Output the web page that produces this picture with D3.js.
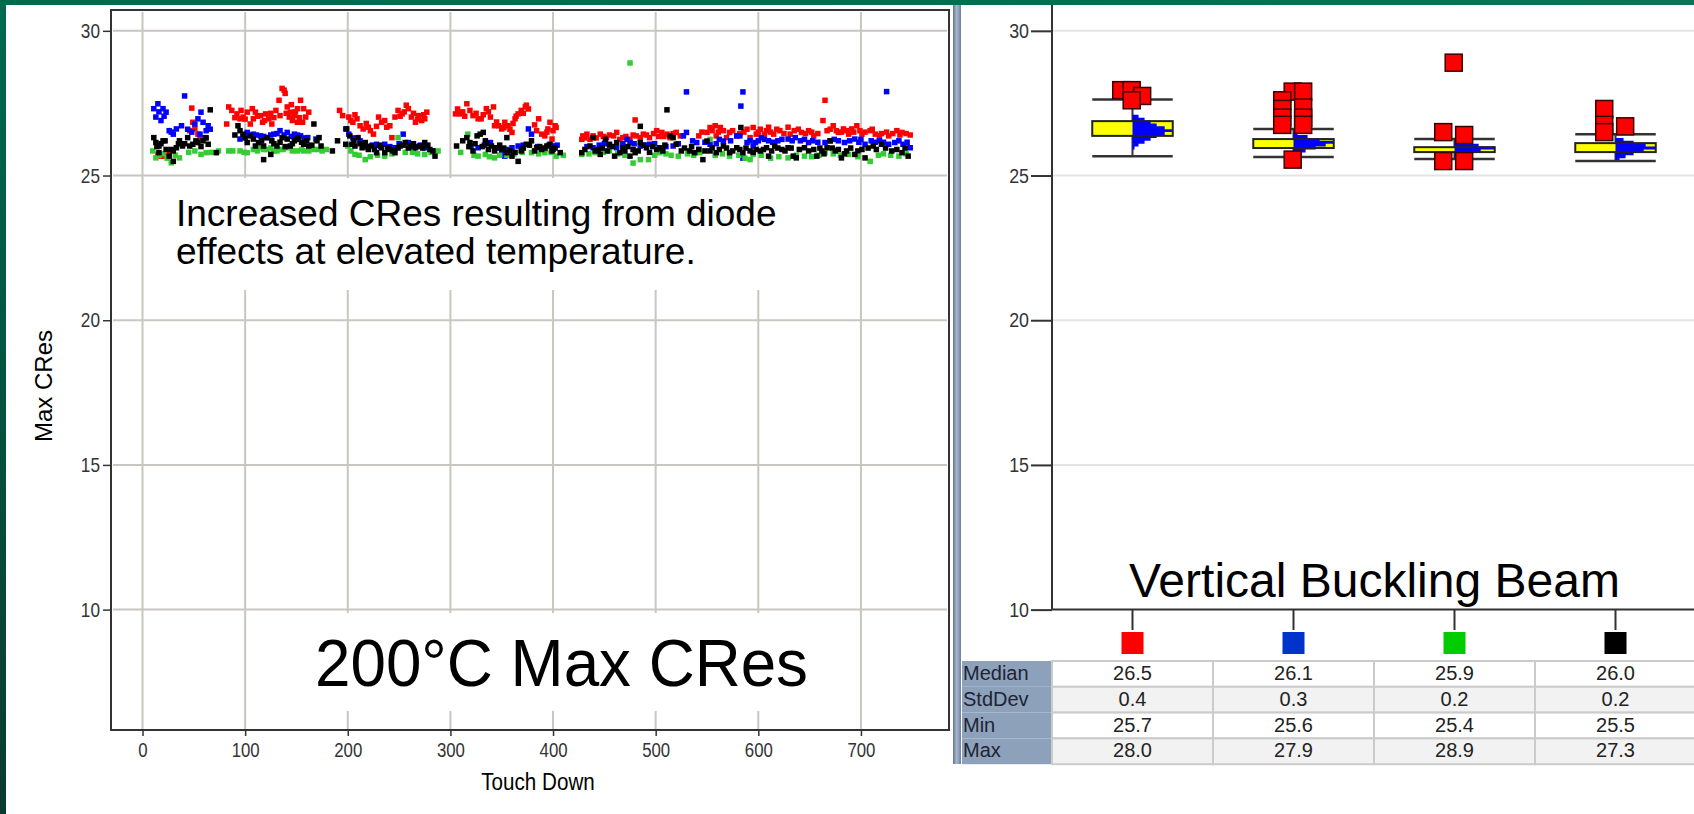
<!DOCTYPE html>
<html>
<head>
<meta charset="utf-8">
<script src="https://cdn.jsdelivr.net/npm/d3@7"></script>
<style>
body { margin: 0; background: #fff; }
svg text { font-family: "Liberation Sans", Arial, sans-serif; }
</style>
</head>
<body>
<svg id="slide" width="1694" height="814"></svg>
<script>
// ---- data ----
var touchDownTicks = [0, 100, 200, 300, 400, 500, 600, 700];
var cresTicks = [10, 15, 20, 25, 30];

// [touch down, max CRes]
var redPoints = [[15,25.73],[18,25.67],[21,25.67],[26,25.79],[46,26.55],[48,27.33],[49,26.84],[51,26.61],[54,26.43],[56,26.31],
[82,26.78],[84,27.37],[87,27.25],[90,27.0],[92,27.13],[95,26.96],[96,27.25],[98,27.02],[100,26.95],[102,27.19],[105,26.78],[107,27.31],[108,26.96],[110,27.19],[112,27.05],[115,27.07],[117,26.84],[119,26.9],[120,27.13],[123,26.96],[125,27.15],[126,26.78],[128,27.0],[130,27.25],[133,27.60],[134,27.07],[136,28.01],[138,27.95],[139,27.84],[140,27.15],[141,27.37],[143,27.02],[144,27.19],[145,27.45],[146,26.90],[148,27.07],[149,27.2],[151,27.31],[151,26.84],[153,27.0],[154,27.60],[156,26.84],[157,27.31],[159,27.02],[162,27.19],[192,27.25],[195,27.07],
[201,27.02],[203,26.9],[205,26.84],[207,27.1],[209,26.96],[212,26.72],[215,26.61],[218,26.8],[220,26.67],[222,26.55],[225,26.43],[228,26.7],[230,27.02],[233,26.84],[236,26.9],[238,26.67],[241,26.72],[243,26.31],[246,27.02],[249,27.25],[251,27.05],[253,27.13],[255,27.2],[257,27.43],[259,27.31],[262,27.02],[264,27.15],[266,26.84],[268,26.95],[269,27.07],[272,26.90],[274,27.1],[275,26.96],[277,27.19],
[305,27.13],[307,27.3],[309,27.13],[312,27.2],[314,27.05],[316,27.48],[319,27.25],[322,27.07],[325,27.15],[327,26.96],[330,26.96],[332,27.1],[335,27.31],[337,27.2],[339,27.02],[342,27.37],[343,26.72],[345,26.85],[347,26.72],[350,26.61],[352,26.65],[353,26.84],[356,26.72],[358,26.6],[360,26.49],[361,26.8],[363,26.96],[364,27.05],[366,27.13],[369,27.25],[371,27.15],[373,27.37],[374,27.43],[376,27.3],[382,26.75],[384,26.55],[386,26.96],[389,26.43],[392,26.37],[394,26.5],[395,26.61],[397,26.84],[399,26.26],[400,26.55],[402,26.72],[403,26.66],
[428,26.25],[429,26.37],[431,26.3],[433,26.43],[436,26.25],[439,26.37],[442,26.3],[446,26.43],[449,26.35],[452,26.31],[455,26.4],[459,26.37],[462,26.49],[465,26.25],[468,26.31],[471,26.35],[475,26.25],[478,26.4],[480,26.92],[481,26.37],[485,26.31],[488,26.43],[491,26.4],[494,26.31],[498,26.45],[501,26.55],[503,26.35],[506,26.49],[508,26.35],[511,26.43],[514,26.31],[517,26.45],[520,26.49],[524,26.37],[542,26.37],[545,26.5],[550,26.49],[553,26.66],[555,26.55],[558,26.72],[559,26.37],[561,26.5],[563,26.66],[566,26.55],[569,26.31],[572,26.49],[575,26.55],[579,26.37],[582,26.45],[586,26.5],[589,26.60],[592,26.31],[595,26.66],[598,26.43],[600,26.5],
[602,26.60],[606,26.43],[608,26.55],[610,26.67],[612,26.5],[615,26.43],[618,26.6],[621,26.55],[625,26.45],[629,26.67],[631,26.43],[635,26.55],[639,26.6],[642,26.49],[646,26.45],[649,26.55],[652,26.5],[654,26.37],[658,26.45],[663,26.90],[665,27.60],[667,26.55],[670,26.6],[673,26.72],[676,26.55],[678,26.49],[681,26.5],[683,26.61],[686,26.55],[688,26.43],[691,26.61],[693,26.5],[696,26.72],[699,26.55],[701,26.43],[704,26.5],[709,26.55],[711,26.6],[714,26.43],[718,26.37],[720,26.45],[725,26.5],[727,26.37],[731,26.45],[735,26.55],[738,26.4],[740,26.49],[744,26.45],[748,26.40]];

var bluePoints = [[11,27.31],[13,27.02],[15,27.48],[16,27.2],[18,26.90],[20,27.31],[21,27.05],[23,27.19],[26,26.55],[28,26.5],[30,26.43],[33,26.61],[38,26.72],[41,27.75],[44,26.6],[48,26.5],[51,26.78],[54,26.96],[56,26.43],[57,27.19],[59,26.84],[61,26.31],[62,26.55],[64,26.72],[66,26.6],
[95,26.26],[98,26.35],[102,26.49],[105,26.4],[108,26.43],[111,26.4],[115,26.37],[118,26.35],[121,26.31],[125,26.4],[128,26.43],[131,26.45],[134,26.55],[138,26.4],[141,26.49],[145,26.35],[148,26.43],[151,26.4],[154,26.37],[158,26.3],[161,26.31],[169,26.26],[198,26.61],
[201,26.43],[205,26.3],[212,26.20],[216,26.05],[220,25.96],[224,26.05],[228,26.08],[232,26.0],[236,26.08],[241,26.0],[246,25.96],[250,26.1],[254,26.43],[259,26.14],[264,25.90],[268,26.0],[271,26.05],[275,25.96],[282,25.85],
[320,26.0],[327,25.96],[333,26.05],[339,26.14],[345,25.95],[350,25.79],[353,25.67],[357,25.9],[360,25.96],[366,26.02],[371,26.05],[376,26.61],[379,26.43],[385,26.0],[392,25.90],[396,26.05],[399,25.96],[400,26.02],[404,26.05],
[433,26.0],[439,25.96],[445,26.05],[450,26.1],[455,26.02],[462,25.96],[468,26.1],[472,26.25],[475,26.14],[479,26.1],[485,26.02],[490,26.05],[494,26.08],[499,26.1],[504,25.96],[510,26.0],[517,26.02],[522,26.1],[527,26.37],[530,26.49],[530,27.89],[536,26.2],[540,26.14],[542,25.90],[548,26.15],[553,26.08],[559,26.1],[562,26.25],[566,26.19],[573,26.2],[579,26.37],[582,26.37],[583,27.40],[585,27.89],[585,25.60],[589,26.14],[592,26.2],[595,26.02],
[597,26.14],[600,26.2],[603,26.31],[606,26.25],[610,26.20],[614,26.15],[619,26.20],[623,26.25],[629,26.26],[633,26.2],[636,26.31],[641,26.20],[645,26.25],[649,26.14],[653,26.2],[658,26.15],[665,26.14],[670,26.2],[674,26.25],[678,26.20],[684,26.14],[689,26.2],[694,26.26],[698,26.15],[700,26.25],[704,26.08],[710,26.20],[714,26.15],[718,26.2],[722,26.15],[725,27.90],[727,26.08],[733,26.14],[737,26.2],[741,26.08],[745,26.15],[748,25.96]];

var greenPoints = [[10,25.85],[13,25.61],[16,25.7],[20,25.75],[24,25.6],[28,25.44],[32,25.7],[36,25.61],[45,25.8],[51,25.85],[57,25.73],[62,25.79],[67,25.8],[74,25.85],
[84,25.85],[88,25.85],[95,25.85],[99,25.8],[102,25.79],[108,25.90],[112,25.85],[115,25.96],[118,25.9],[121,25.90],[125,25.95],[128,25.85],[131,25.85],[134,25.90],[137,25.9],[141,25.96],[146,25.85],[151,25.85],[155,25.9],[157,25.85],[162,25.85],[167,25.90],[171,25.9],[175,25.85],[179,25.90],[200,26.02],
[203,25.85],[207,25.73],[211,25.7],[217,25.55],[222,25.65],[229,25.7],[236,25.67],[243,25.75],[249,26.31],[256,25.8],[263,25.8],[268,25.75],[275,25.73],[281,25.8],[288,25.85],
[310,25.8],[317,26.43],[323,25.7],[327,25.67],[334,25.73],[338,25.65],[343,25.61],[348,25.7],[355,25.7],[362,25.75],[370,25.8],[379,25.79],[386,25.75],[392,25.79],[398,25.8],
[403,25.67],[410,25.7],[428,25.73],[435,25.75],[441,25.79],[449,25.8],[455,25.85],[463,25.75],[470,25.7],[475,28.89],[478,25.43],[485,25.55],[493,25.55],[499,25.7],[504,25.79],[510,25.75],[515,25.7],[522,25.67],[531,25.75],[537,25.7],[543,25.79],[553,26.25],[558,25.7],[565,25.75],[572,25.67],[581,25.7],[587,25.6],[592,25.55],[595,25.73],
[603,25.7],[612,25.6],[620,25.65],[629,25.61],[637,25.7],[645,25.67],[652,25.65],[659,25.7],[665,25.79],[673,25.75],[680,25.7],[688,25.73],[697,25.65],[709,25.49],[717,25.7],[722,25.75],[729,25.7],[737,25.67],[744,25.75]];

var blackPoints = [[11,26.31],[13,26.14],[14,26.0],[16,26.02],[16,25.79],[18,26.1],[20,26.20],[22,26.2],[23,25.90],[26,25.67],[28,25.9],[30,25.49],[30,25.85],[33,25.96],[35,26.1],[36,26.20],[39,26.02],[41,26.1],[44,26.31],[46,26.02],[49,26.08],[52,26.2],[54,26.14],[57,26.0],[59,26.20],[62,26.3],[64,26.08],[66,27.27],[72,25.79],
[90,26.4],[93,26.72],[95,26.55],[98,26.43],[100,26.3],[102,26.14],[105,26.37],[108,26.26],[110,26.02],[113,26.14],[116,26.2],[118,26.02],[118,25.55],[121,26.31],[125,25.73],[126,26.20],[128,26.1],[131,26.02],[134,26.15],[136,26.31],[139,26.0],[141,26.26],[144,26.02],[146,26.1],[148,26.20],[150,26.25],[152,26.31],[155,26.15],[157,26.08],[160,26.2],[162,26.02],[165,26.05],[167,26.78],[170,26.20],[172,26.31],[174,26.02],[185,25.85],[190,26.20],[198,26.08],
[199,26.61],[202,26.37],[204,26.08],[206,26.2],[207,26.02],[210,26.31],[212,26.1],[214,25.96],[217,26.14],[219,26.0],[220,25.90],[223,26.02],[226,25.9],[228,25.79],[231,26.05],[233,25.96],[236,25.79],[239,25.95],[241,25.90],[244,25.85],[246,25.79],[249,25.95],[251,26.02],[254,26.05],[256,26.14],[259,25.95],[261,26.02],[264,26.1],[266,25.96],[270,26.02],[273,25.95],[275,26.14],[278,26.05],[280,25.90],[283,25.85],[285,25.67],
[306,26.02],[312,26.2],[316,26.31],[318,26.0],[319,26.14],[322,25.85],[324,26.1],[326,26.37],[329,26.43],[331,26.0],[332,26.49],[334,26.20],[336,26.1],[337,25.90],[340,26.02],[343,25.85],[345,25.96],[348,26.05],[350,25.90],[352,25.95],[355,25.79],[355,26.31],[358,25.85],[360,25.67],[363,25.8],[366,25.49],[369,25.85],[371,25.95],[374,26.08],[377,26.05],[379,26.20],[382,25.85],[384,25.96],[387,26.0],[389,25.90],[392,25.95],[394,26.02],[397,26.08],[399,25.85],[400,25.90],[402,25.95],[407,25.79],
[428,25.79],[431,25.9],[436,26.02],[439,26.31],[441,25.85],[444,25.90],[446,25.73],[448,25.95],[451,26.25],[453,25.85],[455,26.08],[458,26.0],[460,25.67],[462,26.14],[465,25.79],[468,25.96],[470,25.85],[473,26.0],[475,25.67],[478,25.9],[480,25.79],[483,25.85],[485,26.14],[485,26.70],[488,26.05],[491,25.96],[494,25.8],[497,26.0],[501,25.90],[504,25.95],[507,25.85],[509,26.05],[511,27.27],[514,26.37],[517,26.31],[520,26.08],[525,25.85],[528,25.95],[533,25.85],[535,26.0],[538,25.79],[542,25.9],[546,25.55],[548,25.85],[550,26.19],[553,25.85],[555,25.96],[559,25.79],[562,25.9],[566,26.02],[569,25.95],[572,25.79],[575,25.85],[579,25.96],[582,25.9],[583,26.66],[585,25.79],[588,25.95],[592,25.85],[595,25.8],[598,25.90],
[602,25.85],[605,25.9],[608,25.96],[610,25.67],[613,25.85],[616,26.02],[619,25.95],[623,25.90],[626,25.85],[629,25.96],[632,25.95],[634,25.67],[637,25.61],[640,25.9],[645,25.96],[649,25.85],[654,25.90],[657,25.67],[660,25.95],[662,25.85],[664,25.75],[667,25.96],[670,26.20],[672,25.95],[675,25.85],[678,25.9],[681,25.61],[684,25.75],[686,25.85],[690,25.95],[694,25.73],[697,25.85],[701,25.90],[704,25.61],[707,25.95],[712,26.02],[715,25.9],[720,26.08],[724,25.95],[730,25.85],[735,25.9],[740,25.79],[743,25.95],[746,25.67]];

// right panel: one entry per probe
var beamCategories = ['Red', 'Blue', 'Green', 'Black'];
var statRows = ['Median', 'StdDev', 'Min', 'Max'];
var medianValues = [26.5, 26.1, 25.9, 26.0];
var stdDevValues = [0.4, 0.3, 0.2, 0.2];
var minValues = [25.7, 25.6, 25.4, 25.5];
var maxValues = [28.0, 27.9, 28.9, 27.3];
var q1Values = [26.37, 25.95, 25.81, 25.81];
var q3Values = [26.88, 26.26, 25.98, 26.12];
var whiskerLowValues = [25.67, 25.64, 25.57, 25.50];
var whiskerHighValues = [27.63, 26.61, 26.26, 26.43];

// histogram bins [bin start, share of peak]
var distRed = [[25.9,0.05],[26.0,0.15],[26.1,0.3],[26.2,0.45],[26.3,0.6],[26.4,0.8],[26.5,0.98],[26.6,0.8],[26.7,0.6],[26.8,0.45],[26.9,0.3],[27.0,0.15]];
var distBlue = [[25.7,0.1],[25.8,0.3],[25.9,0.55],[26.0,0.8],[26.1,1.0],[26.2,0.65],[26.3,0.35],[26.4,0.1]];
var distGreen = [[25.6,0.1],[25.7,0.35],[25.8,0.65],[25.9,1.0],[26.0,0.6],[26.1,0.25]];
var distBlack = [[25.5,0.1],[25.6,0.25],[25.7,0.45],[25.8,0.7],[25.9,1.0],[26.0,0.75],[26.1,0.45],[26.2,0.2]];

// outliers [value, column]
var outRed = [[27.95,'L'],[27.95,'C'],[27.75,'R'],[27.6,'C']];
var outBlue = [[27.9,'C'],[27.9,'R'],[27.6,'L'],[27.35,'R'],[27.3,'L'],[27.0,'L'],[27.0,'R'],[26.75,'L'],[26.75,'R'],[25.55,'C']];
var outGreen = [[28.9,'C'],[26.5,'L'],[26.4,'R'],[25.5,'L'],[25.5,'R']];
var outBlack = [[27.3,'L'],[26.75,'L'],[26.7,'R'],[26.5,'L']];

// ---- styles ----
var seriesColor = { Red: '#ff0000', Blue: '#0000ff', Green: '#33cc33', Black: '#000000' };
var legendColor = { Red: '#ff0000', Blue: '#0033cc', Green: '#00cc00', Black: '#000000' };
var gridColor = '#c9c6bf';

var svg = d3.select('#slide');

function narrow(sel, k) {
    sel.each(function () {
        var t = d3.select(this);
        var x = +t.attr('x') || 0;
        var y = +t.attr('y') || 0;
        t.attr('x', 0).attr('y', 0)
            .attr('transform', 'translate(' + x + ',' + y + ') scale(' + k + ',1)');
    });
}

// slide background
var defs = svg.append('defs');
var gLeft = defs.append('linearGradient').attr('id', 'leftBand').attr('x1', 0).attr('y1', 0).attr('x2', 0).attr('y2', 1);
gLeft.append('stop').attr('offset', '0%').attr('stop-color', '#006a4e');
gLeft.append('stop').attr('offset', '100%').attr('stop-color', '#0b3a30');
var gTop = defs.append('linearGradient').attr('id', 'topBand');
gTop.append('stop').attr('offset', '0%').attr('stop-color', '#006a4e');
gTop.append('stop').attr('offset', '60%').attr('stop-color', '#00704f');
gTop.append('stop').attr('offset', '100%').attr('stop-color', '#0b7556');
var gBar = defs.append('linearGradient').attr('id', 'splitBar');
gBar.append('stop').attr('offset', '0%').attr('stop-color', '#5f7391');
gBar.append('stop').attr('offset', '45%').attr('stop-color', '#a9b8cc');
gBar.append('stop').attr('offset', '100%').attr('stop-color', '#6d809c');

svg.append('rect').attr('width', 1694).attr('height', 814).attr('fill', '#fff');
svg.append('rect').attr('width', 1694).attr('height', 5).attr('fill', 'url(#topBand)');
svg.append('rect').attr('width', 6).attr('height', 814).attr('fill', 'url(#leftBand)');

// splitter bar between the two panels
svg.append('rect').attr('x', 953).attr('y', 5).attr('width', 8).attr('height', 759).attr('fill', 'url(#splitBar)');

/// LEFT PANEL - scatter of Max CRes by touch down
var xTd = d3.scaleLinear().domain([-30.7, 785.8]).range([111, 949]);
var yCres = d3.scaleLinear().domain([5.84, 30.72]).range([730, 10]);

var left = svg.append('g').attr('class', 'leftPanel');

left.selectAll('.vgrid')
    .data(touchDownTicks)
    .enter()
    .append('line')
    .attr('x1', d => xTd(d)).attr('x2', d => xTd(d))
    .attr('y1', 12).attr('y2', 729)
    .attr('stroke', gridColor).attr('stroke-width', 2);

left.selectAll('.hgrid')
    .data(cresTicks)
    .enter()
    .append('line')
    .attr('x1', 113).attr('x2', 947)
    .attr('y1', d => yCres(d)).attr('y2', d => yCres(d))
    .attr('stroke', gridColor).attr('stroke-width', 2);

// text boxes with white backing
left.append('rect').attr('x', 165).attr('y', 178).attr('width', 620).attr('height', 112).attr('fill', '#fff');
left.append('rect').attr('x', 300).attr('y', 613).attr('width', 520).attr('height', 98).attr('fill', '#fff');

left.append('text').attr('x', 176).attr('y', 226).style('font-size', '37px')
    .text('Increased CRes resulting from diode');
left.append('text').attr('x', 176).attr('y', 264).style('font-size', '37px')
    .text('effects at elevated temperature.');

left.append('text')
    .attr('x', 315).attr('y', 686)
    .style('font-size', '66px')
    .attr('textLength', 493).attr('lengthAdjust', 'spacingAndGlyphs')
    .text('200°C Max CRes');

var seriesList = [['Red', redPoints], ['Blue', bluePoints], ['Green', greenPoints], ['Black', blackPoints]];
var mark = 5.5;
seriesList.forEach(s => {
    left.append('g')
        .selectAll('rect')
        .data(s[1])
        .enter()
        .append('rect')
        .attr('x', d => xTd(d[0]) - mark / 2)
        .attr('y', d => yCres(d[1]) - mark / 2)
        .attr('width', mark).attr('height', mark)
        .attr('fill', seriesColor[s[0]]);
});

left.append('rect')
    .attr('x', 111).attr('y', 10).attr('width', 838).attr('height', 720)
    .attr('fill', 'none').attr('stroke', '#333').attr('stroke-width', 2);

var xAxisLeft = left.append('g')
    .attr('transform', 'translate(0,730)')
    .call(d3.axisBottom(xTd).tickValues(touchDownTicks).tickSize(6).tickPadding(6));
xAxisLeft.select('.domain').remove();
xAxisLeft.selectAll('line').attr('stroke', '#333').attr('stroke-width', 1.5);
xAxisLeft.selectAll('text').style('font-size', '21px').attr('fill', '#333');
narrow(xAxisLeft.selectAll('text'), 0.8);

var yAxisLeft = left.append('g')
    .attr('transform', 'translate(111,0)')
    .call(d3.axisLeft(yCres).tickValues(cresTicks).tickSize(8).tickPadding(3));
yAxisLeft.select('.domain').remove();
yAxisLeft.selectAll('line').attr('stroke', '#333').attr('stroke-width', 1.5);
yAxisLeft.selectAll('text').style('font-size', '21px').attr('fill', '#333');
narrow(yAxisLeft.selectAll('text'), 0.82);

left.append('text')
    .attr('transform', 'translate(52,386) rotate(-90)')
    .style('text-anchor', 'middle')
    .style('font-size', '24px')
    .text('Max CRes');

left.append('text')
    .attr('transform', 'translate(538,790) scale(0.86,1)')
    .style('text-anchor', 'middle')
    .style('font-size', '24px')
    .text('Touch Down');

/// RIGHT PANEL - box plots per probe
var xBeam = d3.scaleBand().domain(beamCategories).range([1052, 1696]);
var bw = xBeam.bandwidth();
var half = bw * 0.25;
var sideShift = d3.scalePoint().domain(['L', 'C', 'R']).range([-bw * 0.07, bw * 0.06]);
var cx = c => xBeam(c) + bw / 2;

var right = svg.append('g').attr('class', 'rightPanel');

right.selectAll('.hgrid')
    .data(cresTicks.filter(d => d > 10))
    .enter()
    .append('line')
    .attr('x1', 1053).attr('x2', 1694)
    .attr('y1', d => yCres(d)).attr('y2', d => yCres(d))
    .attr('stroke', '#e4e4e4').attr('stroke-width', 2);

right.append('text')
    .attr('x', 1129).attr('y', 597)
    .style('font-size', '48px')
    .text('Vertical Buckling Beam');

var dists = [distRed, distBlue, distGreen, distBlack];
var outs = [outRed, outBlue, outGreen, outBlack];

beamCategories.forEach((c, i) => {
    var g = right.append('g').attr('class', 'box');
    var x0 = cx(c);

    g.append('line')
        .attr('x1', x0).attr('x2', x0)
        .attr('y1', yCres(whiskerHighValues[i])).attr('y2', yCres(whiskerLowValues[i]))
        .attr('stroke', '#333').attr('stroke-width', 2);

    g.append('rect')
        .attr('x', x0 - half).attr('width', half * 2)
        .attr('y', yCres(q3Values[i]))
        .attr('height', yCres(q1Values[i]) - yCres(q3Values[i]))
        .attr('fill', '#ffff00');

    // stepped half-histogram, one outline
    var steps = [];
    dists[i].forEach(d => {
        steps.push([d[0], d[1]]);
        steps.push([d[0] + 0.1, d[1]]);
    });
    var area = d3.area()
        .y(d => yCres(d[0]))
        .x0(x0)
        .x1(d => x0 + d[1] * half);
    g.append('path')
        .attr('d', area(steps))
        .attr('fill', '#0000ff');

    g.append('rect')
        .attr('x', x0 - half).attr('width', half * 2)
        .attr('y', yCres(q3Values[i]))
        .attr('height', yCres(q1Values[i]) - yCres(q3Values[i]))
        .attr('fill', 'none').attr('stroke', '#222').attr('stroke-width', 2);

    [whiskerHighValues[i], whiskerLowValues[i]].forEach(v => {
        g.append('line')
            .attr('x1', x0 - half).attr('x2', x0 + half)
            .attr('y1', yCres(v)).attr('y2', yCres(v))
            .attr('stroke', '#333').attr('stroke-width', 2.5);
    });

    g.selectAll('.out')
        .data(outs[i])
        .enter()
        .append('rect')
        .attr('x', d => x0 + sideShift(d[1]) - 8.5)
        .attr('y', d => yCres(d[0]) - 8.5)
        .attr('width', 17).attr('height', 17)
        .attr('fill', '#ff0000')
        .attr('stroke', '#3a0000').attr('stroke-width', 1.5);
});

// axes of the right panel
right.append('line').attr('x1', 1052).attr('x2', 1052).attr('y1', 5).attr('y2', yCres(10))
    .attr('stroke', '#333').attr('stroke-width', 2);
right.append('line').attr('x1', 1052).attr('x2', 1694).attr('y1', yCres(10)).attr('y2', yCres(10))
    .attr('stroke', '#333').attr('stroke-width', 2);

var yAxisRight = right.append('g')
    .attr('transform', 'translate(1052,0)')
    .call(d3.axisLeft(yCres).tickValues(cresTicks).tickSize(21).tickPadding(2));
yAxisRight.select('.domain').remove();
yAxisRight.selectAll('line').attr('stroke', '#333').attr('stroke-width', 2);
yAxisRight.selectAll('text').style('font-size', '21px').attr('fill', '#333');
narrow(yAxisRight.selectAll('text'), 0.85);

right.selectAll('.catTick')
    .data(beamCategories)
    .enter()
    .append('line')
    .attr('x1', d => cx(d)).attr('x2', d => cx(d))
    .attr('y1', yCres(10)).attr('y2', 630)
    .attr('stroke', '#333').attr('stroke-width', 2);

right.selectAll('.catKey')
    .data(beamCategories)
    .enter()
    .append('rect')
    .attr('x', d => cx(d) - 11).attr('y', 632)
    .attr('width', 22).attr('height', 22)
    .attr('fill', d => legendColor[d]);

// stats table
var rowH = 25.8;
var tableTop = 661;
var statValues = [medianValues, stdDevValues, minValues, maxValues];

var table = right.append('g').attr('class', 'statTable');
statRows.forEach((r, ri) => {
    var y0 = tableTop + ri * rowH;
    table.append('rect')
        .attr('x', 962).attr('y', y0).attr('width', 91).attr('height', rowH)
        .attr('fill', '#8ea1bb');
    table.append('text')
        .attr('x', 963).attr('y', y0 + 19)
        .style('font-size', '20px').attr('fill', '#1d2433')
        .text(r);
    beamCategories.forEach((c, ci) => {
        table.append('rect')
            .attr('x', xBeam(c)).attr('y', y0).attr('width', bw).attr('height', rowH)
            .attr('fill', ri % 2 ? '#f2f2f2' : '#ffffff')
            .attr('stroke', '#cbcbcb').attr('stroke-width', 2);
        table.append('text')
            .attr('x', cx(c)).attr('y', y0 + 19)
            .style('text-anchor', 'middle')
            .style('font-size', '20px').attr('fill', '#222')
            .text(statValues[ri][ci].toFixed(1));
    });
});
</script>
</body>
</html>
